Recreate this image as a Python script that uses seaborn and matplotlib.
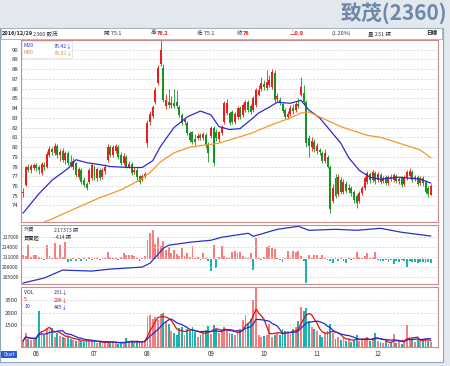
import numpy as np
import pandas as pd
import matplotlib
matplotlib.use("Agg")
import matplotlib.pyplot as plt
import seaborn as sns
from matplotlib.patches import Rectangle

sns.set_theme(style="white")
plt.rcParams['font.family'] = ['Noto Sans CJK TC', 'DejaVu Sans']

# ---------------- data ----------------
opens = [75.3,76.1,77.9,77.6,77.8,78.2,78.0,77.3,78.2,77.9,79.2,79.8,79.4,80.1,79.2,79.6,78.7,79.4,78.5,77.9,
         78.4,76.9,77.6,76.6,76.2,76.4,76.8,78.0,76.8,77.6,76.9,77.5,78.7,80.0,79.2,79.6,80.0,79.2,78.4,79.0,
         78.0,78.3,77.4,77.6,77.0,76.6,77.0,80.4,82.6,83.2,84.6,86.6,88.5,88.1,84.2,84.6,84.3,84.5,84.6,84.1,
         83.3,82.6,82.5,81.4,81.5,80.8,80.9,81.2,80.9,81.2,80.3,81.1,82.0,81.5,80.8,81.4,82.6,83.5,83.5,83.6,
         82.6,83.1,84.0,83.3,83.8,84.6,84.2,83.8,84.3,85.4,86.0,86.5,86.1,86.4,86.2,87.6,84.9,84.8,84.4,83.8,
         83.1,83.4,84.0,83.8,84.4,85.4,85.6,84.6,80.9,80.0,80.5,79.6,79.7,79.4,78.6,79.0,78.0,74.5,76.8,75.2,
         76.6,75.4,76.2,75.6,75.8,75.4,75.0,74.5,75.3,75.8,76.4,77.2,76.6,77.3,76.6,77.1,76.5,76.9,76.3,76.9,
         76.6,77.0,76.5,76.8,76.2,76.8,77.0,77.4,76.7,76.9,76.3,76.8,76.4,75.8,75.1]
closes = [75.4,77.9,77.6,78.1,78.2,77.8,77.6,78.3,77.9,79.3,79.8,79.5,80.1,79.2,79.5,78.7,79.4,78.4,78.2,78.6,
          77.1,77.7,76.4,76.1,75.8,77.6,78.2,76.9,77.7,76.8,77.6,78.0,80.0,79.2,80.0,80.1,79.0,78.4,79.1,78.0,
          78.3,77.3,77.6,76.9,76.4,77.0,77.2,82.5,83.4,84.1,85.9,88.1,90.0,84.8,84.8,84.3,84.5,84.2,84.2,83.3,
          82.5,82.8,81.4,80.7,80.5,80.5,81.1,80.9,81.3,80.2,79.4,82.0,78.4,80.9,81.5,82.1,84.5,84.5,82.5,82.6,
          83.4,84.0,83.1,84.3,84.6,83.8,83.6,85.0,85.9,85.9,86.6,86.2,86.7,86.9,87.7,84.8,85.2,84.5,83.7,83.1,
          83.4,84.0,83.7,84.4,84.2,86.2,84.6,80.4,80.1,80.6,79.8,80.1,79.5,78.6,79.4,78.0,73.6,75.8,75.0,76.9,
          75.4,76.4,75.5,75.8,75.3,74.6,74.3,75.3,75.8,76.8,77.3,76.6,77.4,76.5,77.2,76.4,76.8,76.3,76.9,76.7,
          77.1,76.5,76.7,76.1,76.9,77.4,77.5,76.6,76.9,76.2,76.8,76.3,75.4,75.2,76.0]
highs = [75.8,78.1,78.3,78.3,78.4,78.4,78.2,78.5,78.5,79.6,80.1,80.0,80.4,80.3,79.8,79.9,79.6,79.6,79.2,78.9,
         78.5,77.9,77.8,76.9,76.4,77.8,78.4,78.2,78.0,77.8,77.8,78.3,80.3,80.2,80.2,80.3,80.2,79.5,79.4,79.2,
         78.6,78.5,77.9,77.9,77.1,77.2,77.4,82.8,83.7,84.3,86.2,88.4,91.5,88.5,85.5,86.0,85.2,86.0,85.9,84.3,
         83.5,83.0,82.7,81.6,81.7,81.3,81.4,81.4,81.5,81.4,80.5,82.2,82.2,81.9,81.7,82.3,84.7,84.9,83.7,83.8,
         83.6,84.2,84.2,84.5,84.8,84.8,84.4,85.2,86.1,86.4,87.2,86.9,87.9,87.4,88.0,87.9,85.6,85.1,84.6,84.0,
         83.7,84.3,84.4,84.7,85.0,87.2,86.4,84.8,81.2,81.0,80.8,80.4,79.9,79.6,79.8,79.2,78.2,76.2,77.2,77.2,
         76.9,76.7,76.5,76.2,76.0,75.6,75.2,75.5,76.0,77.0,77.5,77.4,77.6,77.5,77.4,77.3,77.0,77.1,77.1,77.2,
         77.3,77.2,76.9,77.0,77.1,77.6,77.8,77.6,77.1,77.1,77.0,77.0,76.6,76.0,76.2]
lows = [74.9,76.0,77.4,77.3,77.6,77.5,77.2,77.1,77.6,77.8,79.0,79.2,79.2,78.9,78.6,78.5,78.3,78.2,77.9,77.6,
        76.9,76.7,76.2,75.9,75.6,76.2,76.6,76.6,76.5,76.6,76.7,77.2,78.5,79.0,79.0,79.4,78.8,78.2,78.2,77.8,
        77.8,77.1,77.2,76.6,76.2,76.5,76.8,80.0,82.3,83.0,84.4,86.4,88.3,84.6,83.9,84.0,84.0,84.0,84.0,83.1,
        82.3,82.3,81.2,80.5,80.3,80.2,80.7,80.7,80.7,79.9,78.5,80.9,78.1,80.6,80.5,81.2,82.4,83.3,82.3,82.4,
        82.4,82.9,82.9,83.1,83.6,83.6,83.4,83.6,84.1,85.2,85.8,85.9,85.9,86.2,86.0,84.6,84.6,84.3,83.5,82.9,
        82.9,83.2,83.4,83.6,84.0,85.2,84.4,80.0,79.0,79.6,79.5,79.3,79.2,78.4,78.4,77.8,73.2,74.3,74.8,75.0,
        75.2,75.2,75.3,75.3,75.0,74.3,73.7,74.3,75.1,75.6,76.2,76.3,76.4,76.2,76.4,76.2,76.3,76.1,76.1,76.5,
        76.4,76.3,76.2,75.9,76.0,76.6,76.8,76.4,76.5,76.0,76.1,76.0,75.2,74.9,75.1]

ma20_idx = [0, 6, 11, 17, 20, 24, 29, 33, 40, 45, 49, 52, 57, 62, 67, 71, 74, 78, 82, 86, 89, 93, 96,
            101, 105, 108, 112, 116, 120, 123, 127, 131, 135, 142, 150, 154]
ma20_val = [73.2, 75.2, 76.6, 77.8, 78.7, 78.4, 78.2, 78.0, 77.9, 77.9, 78.6, 80.1, 82.0, 83.1, 83.7, 83.3,
            82.1, 81.8, 81.9, 82.8, 83.5, 84.1, 84.6, 84.5, 84.8, 83.8, 83.0, 81.7, 80.4, 78.9, 77.6, 76.9,
            76.7, 76.9, 76.7, 76.3]
ma60_idx = [5, 8, 10, 24, 29, 37, 44, 48, 52, 57, 63, 74, 86, 94, 101, 105, 108, 112, 120, 130, 135, 142, 150, 154]
ma60_val = [71.8, 72.3, 72.5, 74.2, 74.8, 75.6, 76.6, 77.4, 78.5, 79.4, 80.0, 80.4, 81.4, 82.3, 83.0, 83.5,
            83.6, 83.1, 82.1, 81.2, 81.0, 80.4, 79.7, 78.9]

hold_idx = [0, 8, 15, 26, 33, 45, 48, 53, 55, 63, 71, 75, 85, 87, 96, 104, 108, 118, 126, 135, 143, 154]
hold_val = [203200, 204700, 207100, 206800, 207400, 208000, 209200, 213700, 214600, 215500, 216100,
            217000, 218200, 217300, 219400, 220300, 219100, 219400, 219100, 219700, 218500, 217373]

net_buy = [400,350,1400,200,400,400,250,100,-100,1400,300,150,1600,100,1400,200,1750,-250,-200,100,
           -150,150,-200,100,-150,200,-100,150,100,-100,150,100,700,200,150,100,-100,200,600,450,
           400,450,300,150,-150,100,300,1900,2600,2900,1500,2200,1300,1800,900,1200,600,900,500,300,
           1100,300,600,200,1300,100,200,-100,600,150,-200,-1200,1400,-900,200,1300,300,150,200,700,
           800,600,750,300,200,150,600,-1100,2100,150,-100,200,1200,1300,1100,1000,100,-100,-250,100,
           800,200,800,750,800,300,-200,-2350,450,150,450,400,150,450,100,-100,-150,-400,100,-150,
           100,-200,-400,100,-100,150,700,200,100,300,600,100,200,700,-100,-200,-150,-100,-250,-100,
           -450,-150,-300,-100,-200,-800,-150,-300,-250,-350,-300,-250,-350,-300,-414]

volume = [300,700,400,350,400,450,1780,800,600,900,850,950,500,700,550,500,450,500,400,350,
          300,350,300,250,300,350,300,250,200,250,200,250,300,200,250,200,150,250,200,450,
          250,300,200,250,300,250,350,1570,1600,1400,1500,1350,1650,1700,1300,1150,800,700,600,950,
          1000,600,900,800,1000,750,500,600,700,850,1050,650,1100,900,700,800,1000,900,700,650,
          600,800,900,1350,1600,1200,1400,2350,2950,600,500,550,600,1150,500,600,700,600,900,800,
          700,650,900,1000,1300,2000,1800,1950,1300,1000,900,800,600,500,700,800,1150,700,400,500,
          350,450,300,400,250,350,600,300,400,350,500,300,450,700,300,250,200,300,150,250,
          650,200,300,150,250,1100,400,350,250,400,300,350,450,300,231]

months = ["06", "07", "08", "09", "10", "11", "12"]
month_idx = [5, 27, 47, 71, 91, 111, 134]

price_ticks = list(range(74, 91))
hold_ticks = [205000, 208000, 211000, 214000, 217000]
vol_ticks = [1100, 1700, 2350]
vol_tick_labels = ["1500", "2000", "3500"]

# ---------------- figure ----------------
W, H = 450, 366
fig = plt.figure(figsize=(4.5, 3.66), dpi=100, facecolor='#e2e8ee')


def rect(x0, y0, x1, y1):
    return [x0 / W, 1 - y1 / H, (x1 - x0) / W, (y1 - y0) / H]


def fx(x):
    return x / W


def fy(y):
    return 1 - y / H


# chart area background
fig.add_artist(Rectangle((0, fy(362)), 443 / W, (362 - 28) / H, transform=fig.transFigure,
                         facecolor='white', edgecolor='#8fa6bf', lw=0.8, zorder=-2))
fig.add_artist(Rectangle((fx(1), fy(38.5)), 441 / W, 10 / H, transform=fig.transFigure,
                         facecolor='white', edgecolor='#9db0c4', lw=0.6, zorder=-1))

fig.text(447 / W, fy(13), "致茂(2360)", ha='right', va='center', fontsize=15,
         color='#6f88a9', weight='bold')

n = len(closes)
idx = np.arange(n)
df = pd.DataFrame({'i': idx, 'open': opens, 'close': closes, 'high': highs, 'low': lows,
                   'net': net_buy, 'vol': volume})
up = df['close'] >= df['open']
RED, GREEN = '#ee1c1c', '#17931f'
SAL, TEAL = '#f47e7e', '#1db3ad'
SPINE = '#c98c8c'
xlim = (-0.75, 156.7)

ax1 = fig.add_axes(rect(21, 40, 438, 222))
ax2 = fig.add_axes(rect(21, 225, 438, 284))
ax3 = fig.add_axes(rect(21, 287, 438, 347))

for ax in (ax1, ax2, ax3):
    ax.set_xlim(*xlim)
    ax.set_facecolor('white')
    for s in ax.spines.values():
        s.set_color(SPINE)
        s.set_linewidth(0.8)
    ax.set_xticks(month_idx)
    ax.tick_params(axis='x', length=2, width=0.5, direction='in', color='#888888',
                   labelbottom=False, pad=1)
    ax.tick_params(axis='y', length=0, labelsize=4.3, labelcolor='#333333', pad=2)
    ax.grid(axis='y', ls=(0, (3, 2)), color='#cfcfcf', lw=0.5)
    ax.grid(axis='x', visible=False)

# ---- price panel ----
cols = np.where(up, RED, GREEN)
ax1.vlines(df['i'], df['low'], df['high'], colors=cols, lw=0.6, zorder=2)
body = np.maximum((df['close'] - df['open']).abs(), 0.06)
ax1.bar(df['i'], body, bottom=np.minimum(df['open'], df['close']), width=0.75,
        color=cols, linewidth=0, zorder=3)
sns.lineplot(x=ma20_idx, y=ma20_val, ax=ax1, color='#2b2bd0', lw=0.9, zorder=4)
sns.lineplot(x=ma60_idx, y=ma60_val, ax=ax1, color='#f0982a', lw=0.9, zorder=4)
ax1.set_ylim(72.3, 91)
ax1.set_yticks(price_ticks)
ax1.set_yticklabels([str(t) for t in price_ticks])
ax1.set_xlim(*xlim)
ax1.set_xlabel('')
ax1.set_ylabel('')

# ---- foreign holdings panel ----
ax2b = ax2.twinx()
ax2b.set_xlim(*xlim)
ax2b.bar(df['i'], df['net'], width=0.7, color=np.where(df['net'] >= 0, SAL, TEAL), linewidth=0)
ax2b.set_ylim(-2470, 3430)
ax2b.set_yticks([])
for s in ax2b.spines.values():
    s.set_visible(False)
ax2.set_zorder(ax2b.get_zorder() + 1)
ax2.patch.set_visible(False)
sns.lineplot(x=hold_idx, y=hold_val, ax=ax2, color='#2434c4', lw=0.9)
ax2.set_ylim(202900, 220700)
ax2.set_yticks(hold_ticks)
ax2.set_yticklabels([str(t) for t in hold_ticks])
ax2.tick_params(axis='y', labelsize=3.6, pad=1.5)
ax2.set_xlim(*xlim)
ax2.set_xlabel('')
ax2.set_ylabel('')

# ---- volume panel ----
ax3.bar(df['i'], df['vol'], width=0.7, color=np.where(up, SAL, TEAL), linewidth=0, zorder=2)
vma5 = df['vol'].rolling(5, min_periods=1).mean()
vma10 = df['vol'].rolling(10, min_periods=1).mean()
sns.lineplot(x=idx, y=vma5, ax=ax3, color='#e01010', lw=0.9, zorder=3)
sns.lineplot(x=idx, y=vma10, ax=ax3, color='#1f2ed0', lw=0.9, zorder=3)
ax3.set_ylim(0, 3000)
ax3.set_yticks(vol_ticks)
ax3.set_yticklabels(vol_tick_labels)
ax3.set_xlim(*xlim)
ax3.set_xticklabels(months)
ax3.tick_params(axis='x', labelbottom=True, labelsize=4.5, labelcolor='#333333', pad=2.5)
ax3.set_xlabel('')
ax3.set_ylabel('')

# ---- header ----
hy = fy(33.5)
hs = 4.0
fig.text(fx(2), hy, "2016/12/29", fontsize=hs, weight='bold', va='center', color='#222222')
fig.text(fx(33), hy, "2360 致茂", fontsize=hs, va='center', color='#333333')
fig.text(fx(104), hy, "開 75.1", fontsize=hs, va='center', color='#333333')
fig.text(fx(151), hy, "高", fontsize=hs, va='center', color='#333333')
fig.text(fx(157), hy, "76.2", fontsize=hs, va='center', color=RED, weight='bold')
fig.text(fx(197), hy, "低 75.1", fontsize=hs, va='center', color='#333333')
fig.text(fx(237), hy, "收", fontsize=hs, va='center', color='#333333')
fig.text(fx(243), hy, "76", fontsize=hs, va='center', color=RED, weight='bold')
fig.text(fx(290), hy, "△0.9", fontsize=hs, va='center', color=RED, weight='bold')
fig.text(fx(332), hy, "(1.20%)", fontsize=hs, va='center', color='#333333')
fig.text(fx(368), hy, "量 231 張", fontsize=hs, va='center', color='#333333')
fig.text(fx(426), hy, "日線", fontsize=hs, va='center', color='#222222', weight='bold')

# ---- legends ----
fig.add_artist(Rectangle((fx(22), fy(58)), 50 / W, 17 / H, transform=fig.transFigure,
                         facecolor='white', edgecolor='#dddddd', lw=0.5, zorder=5))
ls = 3.8
fig.text(fx(24), fy(45.5), "M20", fontsize=ls, va='center', color='#3030c0', zorder=6)
fig.text(fx(54), fy(45.5), "76.42↓", fontsize=ls, va='center', color='#3030c0', zorder=6)
fig.text(fx(24), fy(53), "M60", fontsize=ls, va='center', color='#e0962a', zorder=6)
fig.text(fx(54), fy(53), "78.81↓", fontsize=ls, va='center', color='#e0962a', zorder=6)

fig.text(fx(24), fy(230), "外資", fontsize=ls, va='center', color='#333366')
fig.text(fx(54), fy(230), "217373 張", fontsize=ls, va='center', color='#333366')
fig.text(fx(24), fy(238), "買賣超", fontsize=ls, va='center', color='#333333')
fig.text(fx(54), fy(238), "-414 張", fontsize=ls, va='center', color='#333333')

fig.text(fx(24), fy(292), "VOL", fontsize=ls, va='center', color='#333366')
fig.text(fx(54), fy(292), "231↓", fontsize=ls, va='center', color='#333366')
fig.text(fx(24), fy(299.5), "5", fontsize=ls, va='center', color='#e01010')
fig.text(fx(54), fy(299.5), "296↓", fontsize=ls, va='center', color='#e01010')
fig.text(fx(24), fy(307), "10", fontsize=ls, va='center', color='#1f2ed0')
fig.text(fx(54), fy(307), "445↓", fontsize=ls, va='center', color='#1f2ed0')

fig.add_artist(Rectangle((fx(1), fy(358)), 16 / W, 7 / H, transform=fig.transFigure,
                         facecolor='#2a5bd7', edgecolor='none', zorder=5))
fig.text(fx(9), fy(354.5), "Chart", fontsize=3.2, ha='center', va='center', color='white', zorder=6)

fig.savefig("out.png", dpi=100, facecolor=fig.get_facecolor())
